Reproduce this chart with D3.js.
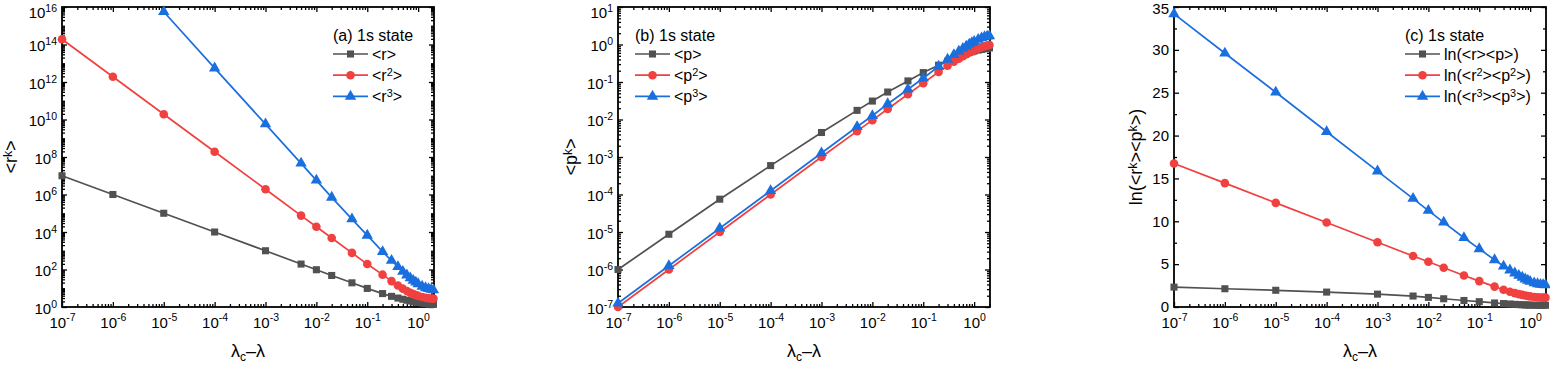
<!DOCTYPE html>
<html><head><meta charset="utf-8">
<script src="https://cdn.jsdelivr.net/npm/d3@7"></script>
<style>body{margin:0;background:#fff}svg{display:block}text{font-family:"Liberation Sans",Arial,sans-serif;fill:#000}</style>
</head><body>
<svg id="chart" width="1550" height="365"></svg>
<script>
// ---- data ----
const lambdaDiff = [1e-7,1e-6,1e-5,1e-4,1e-3,5e-3,1e-2,2e-2,5e-2,0.1,0.2,0.3,0.4,0.5,0.6,0.7,0.8,0.9,1.0,1.2,1.4,1.6,1.8,2.0];

const r1 = [1e7,1e6,1e5,1e4,1e3,195,97,48,19.5,9.8,5.2,3.7,3.0,2.6,2.3,2.1,1.95,1.85,1.75,1.62,1.53,1.47,1.42,1.38];
const r2 = [1.9e14,1.9e12,1.9e10,1.9e8,1.9e6,7.5e4,1.9e4,4.8e3,770,195,53,24,14,9.5,7.2,5.8,4.9,4.3,3.9,3.4,3.1,2.95,2.85,2.8];
const r3 = [null,null,5.6e15,5.5e12,5.7e9,4.6e7,5.7e6,7e5,4.9e4,6.6e3,890,300,140,78,50,35,26,21,17,12.5,10.5,9.3,8.6,8.1];

const p1 = [1e-6,8.7e-6,7.5e-5,5.9e-4,4.5e-3,1.75e-2,3.1e-2,5.4e-2,0.107,0.178,0.28,0.36,0.42,0.48,0.53,0.57,0.61,0.64,0.67,0.71,0.74,0.77,0.79,0.81];
const p2 = [1e-7,1e-6,1e-5,1e-4,1e-3,4.9e-3,9.6e-3,1.9e-2,4.7e-2,9.3e-2,0.185,0.27,0.35,0.42,0.49,0.55,0.61,0.66,0.71,0.79,0.85,0.90,0.94,0.97];
const p3 = [1.26e-7,1.26e-6,1.26e-5,1.26e-4,1.28e-3,6.4e-3,1.26e-2,2.6e-2,6.4e-2,0.126,0.26,0.40,0.53,0.66,0.78,0.90,1.01,1.11,1.20,1.36,1.49,1.60,1.66,1.70];

const lnrp1 = [2.32,2.13,1.95,1.74,1.50,1.28,1.12,0.96,0.76,0.62,0.47,0.40,0.35,0.31,0.28,0.26,0.24,0.23,0.22,0.21,0.20,0.20,0.20,0.20];
const lnrp2 = [16.75,14.45,12.15,9.85,7.55,5.95,5.28,4.58,3.68,3.02,2.38,2.02,1.78,1.62,1.50,1.41,1.34,1.28,1.24,1.17,1.13,1.11,1.10,1.09];
const lnrp3 = [34.2,29.6,25.05,20.45,15.85,12.65,11.25,9.88,8.08,6.78,5.5,4.75,4.3,3.95,3.68,3.45,3.25,3.1,2.98,2.8,2.7,2.63,2.6,2.58];

const xTickExp = [-7,-6,-5,-4,-3,-2,-1,0];
const yTickExpA = [0,2,4,6,8,10,12,14,16];
const yTickExpB = [-7,-6,-5,-4,-3,-2,-1,0,1];
const yTicksC = [0,5,10,15,20,25,30,35];

const colors = ["#515151","#F14040","#1A6FDF"];
const symbols = [d3.symbolSquare, d3.symbolCircle, d3.symbolTriangle];
const symSizes = [50, 58, 56];

const svg = d3.select("#chart");
const TOP = 7, BOTTOM = 307;

function supLabel(sel, base, exp, supSize) {
  sel.text(null);
  sel.append("tspan").text(base);
  sel.append("tspan").attr("font-size", supSize).attr("dy", "-0.6em").text(exp);
}

function logMinors(lo, hi, max) {
  const m = [];
  for (let e = lo; e <= hi; e++) for (let k = 2; k <= 9; k++) { const v = k * Math.pow(10, e); if (v <= max) m.push(v); }
  return m;
}

function panel(cfg) {
  const g = svg.append("g");
  const x = d3.scaleLog().domain([1e-7, 2.05]).range([cfg.left, cfg.right]);
  const y = cfg.y;
  const xMaj = xTickExp.map(e => Math.pow(10, e));
  const xMin = logMinors(-7, 0, 2.05);

  // bottom
  const gb = g.append("g").attr("transform", `translate(0,${BOTTOM})`)
    .call(d3.axisBottom(x).tickValues(xMaj).tickSize(-5).tickPadding(10));
  gb.selectAll(".tick text").attr("font-size", 15).each(function(d){ supLabel(d3.select(this), "10", String(Math.round(Math.log10(d))), 10.5); });
  g.append("g").attr("transform", `translate(0,${BOTTOM})`).call(d3.axisBottom(x).tickValues(xMin).tickSize(-3).tickFormat(""));
  // top
  g.append("g").attr("transform", `translate(0,${TOP})`).call(d3.axisTop(x).tickValues(xMaj).tickSize(-5).tickFormat(""));
  g.append("g").attr("transform", `translate(0,${TOP})`).call(d3.axisTop(x).tickValues(xMin).tickSize(-3).tickFormat(""));
  // left
  const gl = g.append("g").attr("transform", `translate(${cfg.left},0)`)
    .call(d3.axisLeft(y).tickValues(cfg.yMaj).tickSize(-5).tickPadding(5));
  const topVal = cfg.yMaj[cfg.yMaj.length - 1];
  gl.selectAll(".tick text").attr("font-size", 15).each(function(d){
    const s = d3.select(this);
    if (cfg.logY) { supLabel(s, "10", String(Math.round(Math.log10(d))), 10.5); s.attr("dy", "0.42em"); }
    else s.text(d);
    if (d === topVal) s.attr("y", cfg.logY ? 4 : 2);
  });
  g.append("g").attr("transform", `translate(${cfg.left},0)`).call(d3.axisLeft(y).tickValues(cfg.yMin).tickSize(-3).tickFormat(""));
  // right
  g.append("g").attr("transform", `translate(${cfg.right},0)`).call(d3.axisRight(y).tickValues(cfg.yMaj).tickSize(-5).tickFormat(""));
  g.append("g").attr("transform", `translate(${cfg.right},0)`).call(d3.axisRight(y).tickValues(cfg.yMin).tickSize(-3).tickFormat(""));
  g.selectAll(".domain").remove();
  g.selectAll(".tick line").attr("stroke", "#000").attr("stroke-width", 1.3);

  // frame
  g.append("rect").attr("x", cfg.left).attr("y", TOP).attr("width", cfg.right - cfg.left).attr("height", BOTTOM - TOP)
    .attr("fill", "none").attr("stroke", "#000").attr("stroke-width", 1.8);

  // series
  cfg.series.forEach((s, i) => {
    const pts = lambdaDiff.map((xv, j) => [xv, s.values[j]]).filter(d => d[1] != null);
    const line = d3.line().x(d => x(d[0])).y(d => y(d[1]));
    g.append("path").attr("d", line(pts)).attr("fill", "none").attr("stroke", colors[i]).attr("stroke-width", 1.7);
    g.selectAll(null).data(pts).enter().append("path")
      .attr("d", d3.symbol().type(symbols[i]).size(symSizes[i]))
      .attr("transform", d => `translate(${x(d[0])},${y(d[1])})`)
      .attr("fill", colors[i]);
  });

  // legend
  const lg = g.append("g");
  lg.append("text").attr("x", cfg.legX).attr("y", 41).attr("font-size", 16).text(cfg.legTitle);
  cfg.series.forEach((s, i) => {
    const yy = 54 + i * 21.2;
    lg.append("line").attr("x1", cfg.legX).attr("x2", cfg.legX + 35).attr("y1", yy).attr("y2", yy)
      .attr("stroke", colors[i]).attr("stroke-width", 1.7);
    lg.append("path").attr("d", d3.symbol().type(symbols[i]).size(symSizes[i])())
      .attr("transform", `translate(${cfg.legX + 17.5},${yy})`).attr("fill", colors[i]);
    const t = lg.append("text").attr("x", cfg.legX + 39).attr("y", yy + 5.5).attr("font-size", 16);
    s.label(t);
  });

  // axis titles
  const xt = g.append("text").attr("x", (cfg.left + cfg.right) / 2).attr("y", 357).attr("text-anchor", "middle").attr("font-size", 18);
  xt.append("tspan").text("λ");
  xt.append("tspan").attr("font-size", 12).attr("dy", 4).text("c");
  xt.append("tspan").attr("dy", -4).text("–λ");

  const yt = g.append("text").attr("transform", `translate(${cfg.yTitleX},157) rotate(-90)`).attr("text-anchor", "middle").attr("font-size", 18);
  cfg.yTitle(yt);
}

function supParts(t, parts) {
  let up = false;
  parts.forEach(([s, sup]) => {
    const ts = t.append("tspan").text(s);
    if (sup && !up) { ts.attr("dy", "-0.45em").attr("font-size", "0.68em"); up = true; }
    else if (sup) { ts.attr("font-size", "0.68em"); }
    else if (!sup && up) { ts.attr("dy", "0.31em"); up = false; }
  });
}

panel({
  left: 62, right: 434, logY: true,
  y: d3.scaleLog().domain([1, 1e16]).range([BOTTOM, TOP]),
  yMaj: yTickExpA.map(e => Math.pow(10, e)),
  yMin: (() => { const m = []; for (let e = 0; e < 16; e++) for (let k = 1; k <= 9; k++) { if (!(k === 1 && e % 2 === 0)) m.push(k * Math.pow(10, e)); } return m; })(),
  legX: 333, legTitle: "(a) 1s state", yTitleX: 17,
  yTitle: t => supParts(t, [["<r", false], ["k", true], [">", false]]),
  series: [
    { values: r1, label: t => t.text("<r>") },
    { values: r2, label: t => supParts(t, [["<r", false], ["2", true], [">", false]]) },
    { values: r3, label: t => supParts(t, [["<r", false], ["3", true], [">", false]]) }
  ]
});

panel({
  left: 618, right: 990, logY: true,
  y: d3.scaleLog().domain([1e-7, 10]).range([BOTTOM, TOP]),
  yMaj: yTickExpB.map(e => Math.pow(10, e)),
  yMin: logMinors(-7, 0, 10),
  legX: 635, legTitle: "(b) 1s state", yTitleX: 577,
  yTitle: t => supParts(t, [["<p", false], ["k", true], [">", false]]),
  series: [
    { values: p1, label: t => t.text("<p>") },
    { values: p2, label: t => supParts(t, [["<p", false], ["2", true], [">", false]]) },
    { values: p3, label: t => supParts(t, [["<p", false], ["3", true], [">", false]]) }
  ]
});

panel({
  left: 1174, right: 1546, logY: false,
  y: d3.scaleLinear().domain([0, 35]).range([BOTTOM, TOP]),
  yMaj: yTicksC,
  yMin: d3.range(2.5, 35, 5),
  legX: 1405, legTitle: "(c) 1s state", yTitleX: 1142,
  yTitle: t => supParts(t, [["ln(<r", false], ["k", true], ["><p", false], ["k", true], [">)", false]]),
  series: [
    { values: lnrp1, label: t => t.text("ln(<r><p>)") },
    { values: lnrp2, label: t => supParts(t, [["ln(<r", false], ["2", true], ["><p", false], ["2", true], [">)", false]]) },
    { values: lnrp3, label: t => supParts(t, [["ln(<r", false], ["3", true], ["><p", false], ["3", true], [">)", false]]) }
  ]
});
</script>
</body></html>
